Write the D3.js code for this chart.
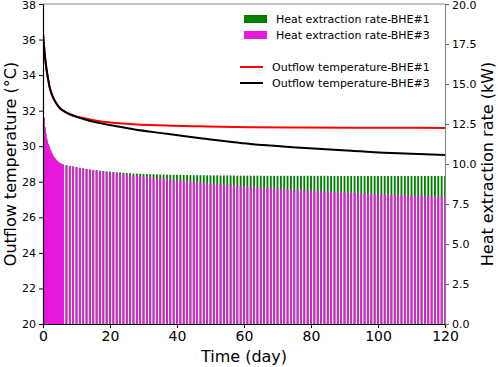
<!DOCTYPE html>
<html>
<head>
<meta charset="utf-8">
<script src="https://cdn.jsdelivr.net/npm/d3@7"></script>
<style>
  body { margin: 0; background: #fff; }
  text { font-family: "DejaVu Sans", sans-serif; fill: #000; }
</style>
</head>
<body>
<svg id="chart"></svg>
<script>
// outflow temperature and heat extraction rate of two borehole heat exchangers over 120 days

// time grid of the heat extraction bars: quarter days at the start, then daily
const barDays = [
  0, 0.25, 0.5, 0.75, 1, 1.25, 1.5, 1.75, 2, 2.25, 2.5, 2.75, 3, 3.25, 3.5, 3.75,
  4, 4.25, 4.5, 4.75, 5, 5.25, 5.5, 5.75
].concat(d3.range(6, 121));

const rateBHE3 = [
  13.8, 12.9, 12.3, 11.9, 11.6, 11.4, 11.25, 11.1, 10.95, 10.82, 10.7, 10.6,
  10.5, 10.42, 10.35, 10.28, 10.22, 10.17, 10.12, 10.08, 10.05, 10.02, 9.99, 9.97,
  9.95, 9.92, 9.88, 9.84, 9.80, 9.76, 9.72, 9.68, 9.65, 9.62, 9.59, 9.56, 9.53, 9.50, 9.47,
  9.44, 9.42, 9.39, 9.37, 9.34, 9.32, 9.29, 9.27, 9.24, 9.22,
  9.20, 9.18, 9.15, 9.13, 9.11, 9.09, 9.07, 9.05, 9.02, 9.00,
  8.98, 8.96, 8.93, 8.91, 8.89, 8.87, 8.85, 8.82, 8.80, 8.78,
  8.76, 8.74, 8.72, 8.70, 8.69, 8.67, 8.65, 8.63, 8.62, 8.60,
  8.58, 8.57, 8.55, 8.54, 8.52, 8.51, 8.49, 8.48, 8.46, 8.45,
  8.44, 8.43, 8.41, 8.40, 8.39, 8.38, 8.37, 8.35, 8.34, 8.33,
  8.32, 8.31, 8.30, 8.29, 8.28, 8.26, 8.25, 8.24, 8.23, 8.22,
  8.21, 8.20, 8.19, 8.18, 8.17, 8.16, 8.15, 8.14, 8.13, 8.12,
  8.11, 8.10, 8.09, 8.08, 8.07, 8.07, 8.06, 8.05, 8.04, 8.03,
  8.02, 8.01, 8.00, 8.00, 7.99, 7.98, 7.97, 7.96, 7.96, 7.95
];

const rateBHE1 = [
  13.8, 12.9, 12.3, 11.9, 11.6, 11.4, 11.25, 11.1, 10.95, 10.82, 10.7, 10.6,
  10.5, 10.42, 10.35, 10.28, 10.22, 10.17, 10.12, 10.08, 10.05, 10.02, 9.99, 9.97,
  9.95, 9.92, 9.88, 9.84, 9.80, 9.76, 9.72, 9.69, 9.66, 9.63, 9.61, 9.58, 9.56, 9.54, 9.52,
  9.50, 9.48, 9.47, 9.45, 9.44, 9.43, 9.41, 9.40, 9.39, 9.38,
  9.37, 9.36, 9.36, 9.35, 9.34, 9.34, 9.33, 9.33, 9.32, 9.32,
  9.32, 9.31, 9.31, 9.31, 9.30, 9.30, 9.30, 9.30, 9.29, 9.29,
  9.29, 9.29, 9.28, 9.28, 9.28, 9.28, 9.28, 9.27, 9.27, 9.27,
  9.27, 9.27, 9.27, 9.27, 9.27, 9.26, 9.26, 9.26, 9.26, 9.26,
  9.26, 9.26, 9.26, 9.26, 9.26, 9.26, 9.26, 9.26, 9.26, 9.26,
  9.26, 9.26, 9.26, 9.26, 9.26, 9.25, 9.25, 9.25, 9.25, 9.25,
  9.25, 9.25, 9.25, 9.25, 9.25, 9.25, 9.25, 9.25, 9.25, 9.25,
  9.25, 9.25, 9.25, 9.25, 9.25, 9.25, 9.25, 9.25, 9.25, 9.25,
  9.25, 9.25, 9.25, 9.25, 9.25, 9.25, 9.25, 9.25, 9.25, 9.25
];

// outflow temperature curves
const tempDays = [0, 0.5, 1, 1.5, 2, 3, 4, 5, 6, 8, 10, 13, 17, 22, 27, 37, 47, 62, 77, 92, 106, 120];
const tempBHE1 = [36.35, 35.2, 34.4, 33.8, 33.3, 32.75, 32.4, 32.15, 32.0, 31.8, 31.68, 31.55, 31.4, 31.3, 31.24, 31.16, 31.12, 31.07, 31.05, 31.04, 31.035, 31.03];
const tempBHE3 = [36.35, 35.2, 34.4, 33.8, 33.3, 32.75, 32.4, 32.15, 32.0, 31.8, 31.65, 31.48, 31.3, 31.12, 30.95, 30.7, 30.45, 30.12, 29.92, 29.75, 29.6, 29.5];

const xTicks = [0, 20, 40, 60, 80, 100, 120];
const tempTicks = [20, 22, 24, 26, 28, 30, 32, 34, 36, 38];
const rateTicks = [0, 2.5, 5, 7.5, 10, 12.5, 15, 17.5, 20];

const width = 498,
  height = 367,
  margin = { top: 4, right: 53, bottom: 43, left: 43 };

const green = "#008000",
  magenta = "#e619dc";

const x = d3.scaleLinear([0, 120], [margin.left, width - margin.right]);
const yTemp = d3.scaleLinear([20, 38], [height - margin.bottom, margin.top]);
const yRate = d3.scaleLinear([0, 20], [height - margin.bottom, margin.top]);

const svg = d3.select("#chart").attr("width", width).attr("height", height);

svg.append("defs")
  .append("clipPath")
  .attr("id", "plot-clip")
  .append("rect")
  .attr("x", margin.left)
  .attr("y", margin.top)
  .attr("width", width - margin.left - margin.right)
  .attr("height", height - margin.top - margin.bottom);

const plot = svg.append("g").attr("clip-path", "url(#plot-clip)");

const barW = x(0.55) - x(0);

function drawBars(values, color) {
  plot.append("g")
    .selectAll("rect")
    .data(barDays.map((d, i) => [d, values[i]]))
    .join("rect")
    .attr("x", d => x(d[0]) - barW / 2)
    .attr("width", barW)
    .attr("y", d => yRate(d[1]))
    .attr("height", d => yRate(0) - yRate(d[1]))
    .attr("fill", color);
}

drawBars(rateBHE1, green);
drawBars(rateBHE3, magenta);

const line = d3.line()
  .x(d => x(d[0]))
  .y(d => yTemp(d[1]))
  .curve(d3.curveMonotoneX);

plot.append("path")
  .attr("d", line(tempDays.map((d, i) => [d, tempBHE1[i]])))
  .attr("fill", "none")
  .attr("stroke", "red")
  .attr("stroke-width", 2);

plot.append("path")
  .attr("d", line(tempDays.map((d, i) => [d, tempBHE3[i]])))
  .attr("fill", "none")
  .attr("stroke", "black")
  .attr("stroke-width", 2);

// axes
const xAxis = svg.append("g")
  .attr("transform", `translate(0, ${height - margin.bottom})`)
  .call(d3.axisBottom(x).tickValues(xTicks).tickSize(4).tickPadding(3))
  .style("font-size", "14px");

const leftAxis = svg.append("g")
  .attr("transform", `translate(${margin.left}, 0)`)
  .call(d3.axisLeft(yTemp).tickValues(tempTicks).tickSize(4).tickPadding(3))
  .style("font-size", "11px");

const rightAxis = svg.append("g")
  .attr("transform", `translate(${width - margin.right}, 0)`)
  .call(d3.axisRight(yRate).tickValues(rateTicks).tickFormat(d3.format(".1f")).tickSize(4).tickPadding(3))
  .style("font-size", "11px");

[xAxis, leftAxis, rightAxis].forEach(a =>
  a.attr("font-family", null).selectAll("text").attr("fill", "#000"));
xAxis.select(".domain").attr("stroke", "#000").attr("stroke-width", 1.2);
leftAxis.select(".domain").attr("stroke", "#000").attr("stroke-width", 1.2);
rightAxis.select(".domain").attr("stroke", "#888").attr("stroke-width", 1.2);
rightAxis.selectAll(".tick line").attr("stroke", "#666");

// keep the topmost tick labels inside the picture
leftAxis.selectAll(".tick text").filter(d => d === 38).attr("dy", "0.45em");
rightAxis.selectAll(".tick text").filter(d => d === 20).attr("dy", "0.45em");

svg.append("line")
  .attr("x1", margin.left)
  .attr("x2", width - margin.right)
  .attr("y1", margin.top)
  .attr("y2", margin.top)
  .attr("stroke", "#888")
  .attr("stroke-width", 1.2);

// axis titles
svg.append("text")
  .attr("x", (margin.left + width - margin.right) / 2)
  .attr("y", 362)
  .attr("text-anchor", "middle")
  .style("font-size", "16px")
  .text("Time (day)");

svg.append("text")
  .attr("transform", `translate(16, ${(margin.top + height - margin.bottom) / 2}) rotate(-90)`)
  .attr("text-anchor", "middle")
  .style("font-size", "16px")
  .text("Outflow temperature (°C)");

svg.append("text")
  .attr("transform", `translate(493, ${(margin.top + height - margin.bottom) / 2}) rotate(-90)`)
  .attr("text-anchor", "middle")
  .style("font-size", "16px")
  .text("Heat extraction rate (kW)");

// legends
const barLegend = [
  { label: "Heat extraction rate-BHE#1", color: green },
  { label: "Heat extraction rate-BHE#3", color: magenta }
];
const lineLegend = [
  { label: "Outflow temperature-BHE#1", color: "red" },
  { label: "Outflow temperature-BHE#3", color: "black" }
];

svg.append("g")
  .selectAll("g")
  .data(barLegend)
  .join("g")
  .attr("transform", (d, i) => `translate(244, ${19 + i * 16})`)
  .call(g => g.append("rect")
    .attr("x", 0).attr("y", -4).attr("width", 23).attr("height", 8)
    .attr("fill", d => d.color))
  .call(g => g.append("text")
    .attr("x", 32).attr("dy", "0.35em")
    .style("font-size", "11px")
    .text(d => d.label));

svg.append("g")
  .selectAll("g")
  .data(lineLegend)
  .join("g")
  .attr("transform", (d, i) => `translate(240, ${67 + i * 16})`)
  .call(g => g.append("line")
    .attr("x1", 0).attr("x2", 23)
    .attr("stroke", d => d.color).attr("stroke-width", 2))
  .call(g => g.append("text")
    .attr("x", 32).attr("dy", "0.35em")
    .style("font-size", "11px")
    .text(d => d.label));
</script>
</body>
</html>
